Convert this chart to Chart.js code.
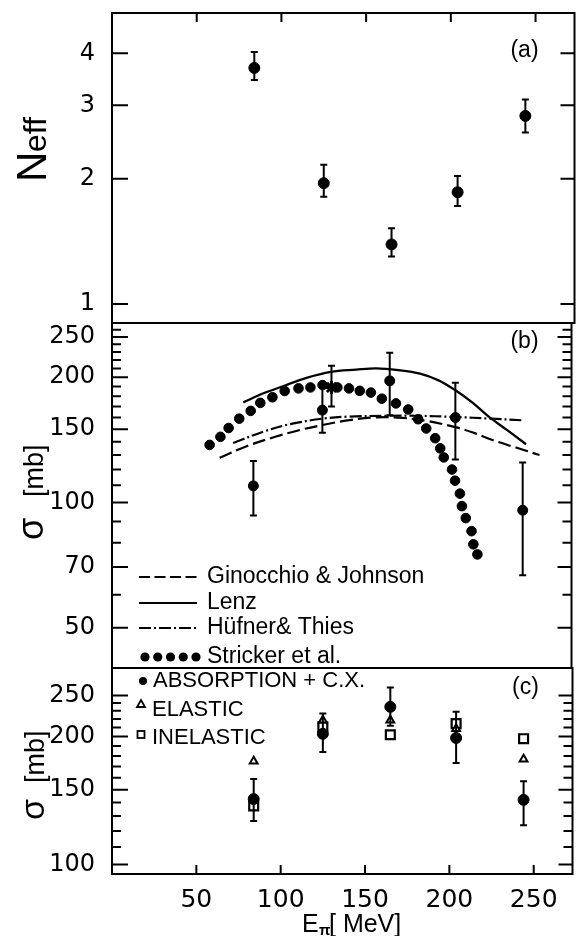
<!DOCTYPE html>
<html>
<head>
<meta charset="utf-8">
<script src="https://cdn.jsdelivr.net/npm/chart.js@4.4.0/dist/chart.umd.min.js"></script>
<style>
  html, body { margin: 0; padding: 0; background: #fff; }
  #wrap { position: relative; width: 581px; height: 936px; overflow: hidden; }
  canvas { position: absolute; left: 0; }
</style>
</head>
<body>
<div id="wrap">
  <canvas id="panelA" width="581" height="333" style="top:0px;width:581px;height:333px"></canvas>
  <canvas id="panelB" width="581" height="365" style="top:313px;width:581px;height:365px"></canvas>
  <canvas id="panelC" width="581" height="278" style="top:658px;width:581px;height:278px"></canvas>
</div>
<script>
// ---- data ----
const energies = [84, 125, 165, 204, 244];
const energyTicks = [50, 100, 150, 200, 250];

// (a) effective number of nucleons
const neff = [3.69, 1.95, 1.39, 1.855, 2.83];
const neffLo = [3.45, 1.81, 1.30, 1.72, 2.58];
const neffHi = [4.03, 2.16, 1.52, 2.03, 3.10];
const neffTicks = [1, 2, 3, 4];

// (b) absorption cross section and model curves
const sigB = [109.6, 166.7, 196, 160, 95.8];
const sigBLo = [93, 147, 162, 126.8, 66.8];
const sigBHi = [125.8, 191.5, 229, 194, 124.8];
const starE = [130.4];
const starS = [189];
const starLo = [170];
const starHi = [213];

const gjE = [64, 80, 97, 112, 125, 140, 155, 170, 187, 204, 215, 226, 240, 254];
const gjS = [128, 136.5, 143.8, 149.5, 153.5, 157.5, 160, 160, 157, 151.7, 147, 141.3, 135.5, 130];
const lenzE = [78, 90, 102, 115, 130, 145, 157, 170, 183, 194, 204, 214, 224, 235, 246];
const lenzS = [174, 183, 190.5, 199, 206, 208.5, 210, 208, 204, 196.5, 186, 174, 160.5, 149, 138];
const htE = [72, 90, 105, 125, 140, 165, 180, 204, 225, 245];
const htS = [139, 148, 154, 159, 160.8, 161.6, 161.6, 160.5, 159, 157.5];
const strE = [58, 64.4, 69.3, 75.6, 82.4, 88.1, 95.3, 102.6, 110.8, 117.9, 125.1, 133.9, 140.8, 147.2,
  153.8, 160.3, 168.7, 176, 181.9, 186.7, 192, 195, 197.1, 202, 203.8, 206.7, 207.9, 210.2, 213.6, 214.7, 217.1];
const strS = [137.5, 143.8, 151, 159, 166, 173.5, 179, 185.3, 188, 189, 191.5, 189, 188, 185.5,
  183.7, 177.6, 173, 167.3, 158.5, 150.6, 142.7, 134.9, 128.3, 120, 112.8, 105, 98, 91.7, 85.3, 79.3, 75];
const sigBMajor = [50, 70, 100, 150, 200, 250];
const sigBMinor = [60, 80, 90, 110, 120, 130, 140, 160, 170, 180, 190, 210, 220, 230, 240, 260];

// (c) partial cross sections
const absC = [142.6, 203, 235, 198.5, 142];
const absCLo = [126.6, 184, 212, 173.4, 123.7];
const absCHi = [159, 226.6, 260.8, 228.8, 157];
const elasC = [175, 218.5, 218.5, 208.7, 177];
const inelC = [137.4, 210.8, 202, 214.5, 197.7];
const sigCMajor = [100, 150, 200, 250];
const sigCMinor = [110, 120, 130, 140, 160, 170, 180, 190, 210, 220, 230, 240];

const pts = (xs, ys) => xs.map((x, i) => ({ x, y: ys[i] }));
const SANS = '"Liberation Sans", Arial, sans-serif';

// ---- shared plugins ----
const errorBars = {
  id: 'errorBars',
  afterDatasetsDraw(chart) {
    const ctx = chart.ctx;
    chart.data.datasets.forEach((ds, i) => {
      if (!ds.errLo) return;
      const meta = chart.getDatasetMeta(i);
      const ys = chart.scales[meta.yAxisID];
      ctx.save();
      ctx.strokeStyle = '#000';
      ctx.lineWidth = 2;
      ctx.beginPath();
      meta.data.forEach((p, j) => {
        const lo = ys.getPixelForValue(ds.errLo[j]);
        const hi = ys.getPixelForValue(ds.errHi[j]);
        ctx.moveTo(p.x, lo); ctx.lineTo(p.x, hi);
        ctx.moveTo(p.x - 3.5, lo); ctx.lineTo(p.x + 3.5, lo);
        ctx.moveTo(p.x - 3.5, hi); ctx.lineTo(p.x + 3.5, hi);
      });
      ctx.stroke();
      ctx.restore();
    });
  }
};

const frame = {
  id: 'frame',
  afterDraw(chart, args, opts) {
    const { ctx, chartArea: a, scales } = chart;
    ctx.save();
    ctx.strokeStyle = '#000';
    ctx.lineWidth = 2;
    ctx.strokeRect(a.left, a.top, a.right - a.left, a.bottom - a.top);
    ctx.beginPath();
    (opts.major || []).forEach(v => {
      const p = scales.y.getPixelForValue(v);
      ctx.moveTo(a.left, p); ctx.lineTo(a.left + 16, p);
      ctx.moveTo(a.right, p); ctx.lineTo(a.right - 14, p);
    });
    (opts.minor || []).forEach(v => {
      const p = scales.y.getPixelForValue(v);
      ctx.moveTo(a.left, p); ctx.lineTo(a.left + 9, p);
      ctx.moveTo(a.right, p); ctx.lineTo(a.right - 9, p);
    });
    energyTicks.forEach(v => {
      const p = scales.x.getPixelForValue(v);
      if (opts.xTop) { ctx.moveTo(p, a.top); ctx.lineTo(p, a.top + 9); }
      if (opts.xBottom) { ctx.moveTo(p, a.bottom); ctx.lineTo(p, a.bottom - 9); }
    });
    ctx.stroke();
    ctx.fillStyle = '#000';
    ctx.font = '23px ' + SANS;
    ctx.textAlign = 'center';
    ctx.textBaseline = 'middle';
    ctx.fillText(opts.tag, a.right - opts.tagDx, a.top + opts.tagDy);
    ctx.restore();
  }
};

// vertical text, reading upward; parts = [text, font, start y]
function drawVertical(ctx, x, parts) {
  parts.forEach(([text, font, y0]) => {
    ctx.save();
    ctx.translate(x, y0);
    ctx.rotate(-Math.PI / 2);
    ctx.font = font;
    ctx.fillStyle = '#000';
    ctx.textAlign = 'left';
    ctx.textBaseline = 'alphabetic';
    ctx.fillText(text, 0, 0);
    ctx.restore();
  });
}

function yAxis(min, max, labels) {
  return {
    type: 'logarithmic', min, max,
    grid: { display: false }, border: { display: false },
    afterBuildTicks: s => { s.ticks = labels.map(v => ({ value: v })); },
    afterFit: s => { s.width = 112; s.paddingTop = 0; s.paddingBottom = 0; },
    ticks: { color: '#000', font: { family: 'DejaVu Sans', size: 24 }, padding: 9, autoSkip: false, callback: v => String(v) }
  };
}

function xAxis(show) {
  return {
    type: 'linear', min: 0, max: 273, display: show,
    grid: { display: false }, border: { display: false },
    afterBuildTicks: s => { s.ticks = energyTicks.map(v => ({ value: v })); },
    afterFit: s => { s.height = show ? 62 : 0; s.paddingLeft = 0; s.paddingRight = 0; },
    ticks: { color: '#000', font: { family: 'DejaVu Sans', size: 25 }, padding: 3, autoSkip: false, maxRotation: 0 }
  };
}

const common = {
  responsive: false,
  maintainAspectRatio: false,
  animation: false,
  events: [],
  plugins: { legend: { display: false }, tooltip: { enabled: false } }
};

// ---- panel (a) ----
new Chart(document.getElementById('panelA'), {
  type: 'scatter',
  data: {
    datasets: [{
      data: pts(energies, neff), errLo: neffLo, errHi: neffHi,
      pointRadius: 5.5, backgroundColor: '#000', borderColor: '#000'
    }]
  },
  options: {
    ...common,
    layout: { padding: { top: 13, bottom: 10, left: 0, right: 4 } },
    scales: { x: xAxis(false), y: yAxis(0.9, 5, neffTicks) },
    plugins: { ...common.plugins, frame: { major: neffTicks, xTop: true, tag: '(a)', tagDx: 50, tagDy: 38 } }
  },
  plugins: [errorBars, frame, {
    id: 'titleA',
    afterDraw(chart) {
      drawVertical(chart.ctx, 46, [['N', '42px ' + SANS, 182], ['eff', '32px ' + SANS, 152]]);
    }
  }]
});

// ---- panel (b) ----
const offB = 313;
new Chart(document.getElementById('panelB'), {
  type: 'scatter',
  data: {
    datasets: [
      { data: pts(energies, sigB), errLo: sigBLo, errHi: sigBHi, pointRadius: 5, backgroundColor: '#000', borderColor: '#000' },
      { data: pts(starE, starS), errLo: starLo, errHi: starHi, pointStyle: 'star', pointRadius: 6.5, borderWidth: 3, borderColor: '#000' },
      { data: pts(strE, strS), pointRadius: 4.8, backgroundColor: '#000', borderColor: '#000' },
      { data: pts(lenzE, lenzS), showLine: true, pointRadius: 0, borderColor: '#000', borderWidth: 2.3, tension: 0.35 },
      { data: pts(gjE, gjS), showLine: true, pointRadius: 0, borderColor: '#000', borderWidth: 2.2, borderDash: [13, 5], tension: 0.35 },
      { data: pts(htE, htS), showLine: true, pointRadius: 0, borderColor: '#000', borderWidth: 2.2, borderDash: [12, 3, 2, 3], tension: 0.35 }
    ]
  },
  options: {
    ...common,
    layout: { padding: { top: 10, bottom: 10, left: 0, right: 4 } },
    scales: { x: xAxis(false), y: yAxis(40, 270, sigBMajor) },
    plugins: { ...common.plugins, frame: { major: sigBMajor, minor: sigBMinor, tag: '(b)', tagDx: 47, tagDy: 19 } }
  },
  plugins: [errorBars, frame, {
    id: 'legendB',
    afterDraw(chart) {
      const ctx = chart.ctx;
      drawVertical(ctx, 43, [['σ', '36px ' + SANS, 540 - offB], ['[mb]', '27px ' + SANS, 497 - offB]]);
      ctx.save();
      ctx.strokeStyle = '#000';
      ctx.fillStyle = '#000';
      ctx.lineWidth = 2;
      const rows = [
        ['Ginocchio & Johnson', 577, [11, 4.5]],
        ['Lenz', 603, []],
        ['Hüfner& Thies', 628, [12, 3, 2, 3]]
      ];
      rows.forEach(([label, y, dash]) => {
        ctx.setLineDash(dash);
        ctx.beginPath();
        ctx.moveTo(139, y - offB); ctx.lineTo(197, y - offB);
        ctx.stroke();
      });
      ctx.setLineDash([]);
      [145, 157.75, 170.5, 183.25, 196].forEach(x => {
        ctx.beginPath();
        ctx.arc(x, 657 - offB, 4.6, 0, Math.PI * 2);
        ctx.fill();
      });
      ctx.font = '23px ' + SANS;
      ctx.textAlign = 'left';
      ctx.textBaseline = 'middle';
      rows.forEach(([label, y]) => ctx.fillText(label, 207, y - offB));
      ctx.fillText('Stricker et al.', 207, 657 - offB);
      ctx.restore();
    }
  }]
});

// ---- panel (c) ----
const offC = 658;
new Chart(document.getElementById('panelC'), {
  type: 'scatter',
  data: {
    datasets: [
      { data: pts(energies, absC), errLo: absCLo, errHi: absCHi, pointRadius: 5.5, backgroundColor: '#000', borderColor: '#000' },
      { data: pts(energies, elasC), pointStyle: 'triangle', pointRadius: 4.5, borderWidth: 2, backgroundColor: '#fff', borderColor: '#000' },
      { data: pts(energies, inelC), pointStyle: 'rect', pointRadius: 6.3, borderWidth: 2.2, backgroundColor: '#fff', borderColor: '#000' }
    ]
  },
  options: {
    ...common,
    layout: { padding: { top: 10, bottom: 0, left: 0, right: 4 } },
    scales: { x: xAxis(true), y: yAxis(95, 290, sigCMajor) },
    plugins: { ...common.plugins, frame: { major: sigCMajor, minor: sigCMinor, xBottom: true, tag: '(c)', tagDx: 47, tagDy: 20 } }
  },
  plugins: [errorBars, frame, {
    id: 'legendC',
    afterDraw(chart) {
      const ctx = chart.ctx;
      drawVertical(ctx, 44, [['σ', '34px ' + SANS, 820 - offC], ['[mb]', '27px ' + SANS, 783 - offC]]);
      ctx.save();
      ctx.fillStyle = '#000';
      ctx.strokeStyle = '#000';
      ctx.lineWidth = 1.8;
      ctx.beginPath();
      ctx.arc(143, 681 - offC, 4, 0, Math.PI * 2);
      ctx.fill();
      ctx.beginPath();
      ctx.moveTo(141, 700 - offC); ctx.lineTo(145, 707 - offC); ctx.lineTo(137, 707 - offC); ctx.closePath();
      ctx.stroke();
      ctx.strokeRect(137.5, 731 - offC, 7, 7);
      ctx.font = '22px ' + SANS;
      ctx.textAlign = 'left';
      ctx.textBaseline = 'middle';
      ctx.fillText('ABSORPTION + C.X.', 153, 681 - offC);
      ctx.fillText('ELASTIC', 152, 710 - offC);
      ctx.fillText('INELASTIC', 152, 738 - offC);
      // x axis title
      ctx.textBaseline = 'alphabetic';
      ctx.font = '25px ' + SANS;
      ctx.fillText('E', 302, 932 - offC);
      ctx.font = 'bold 15px ' + SANS;
      ctx.fillText('π', 319, 935 - offC);
      ctx.font = '25px ' + SANS;
      ctx.fillText('[ MeV]', 329, 932 - offC);
      ctx.restore();
    }
  }]
});
</script>
</body>
</html>
